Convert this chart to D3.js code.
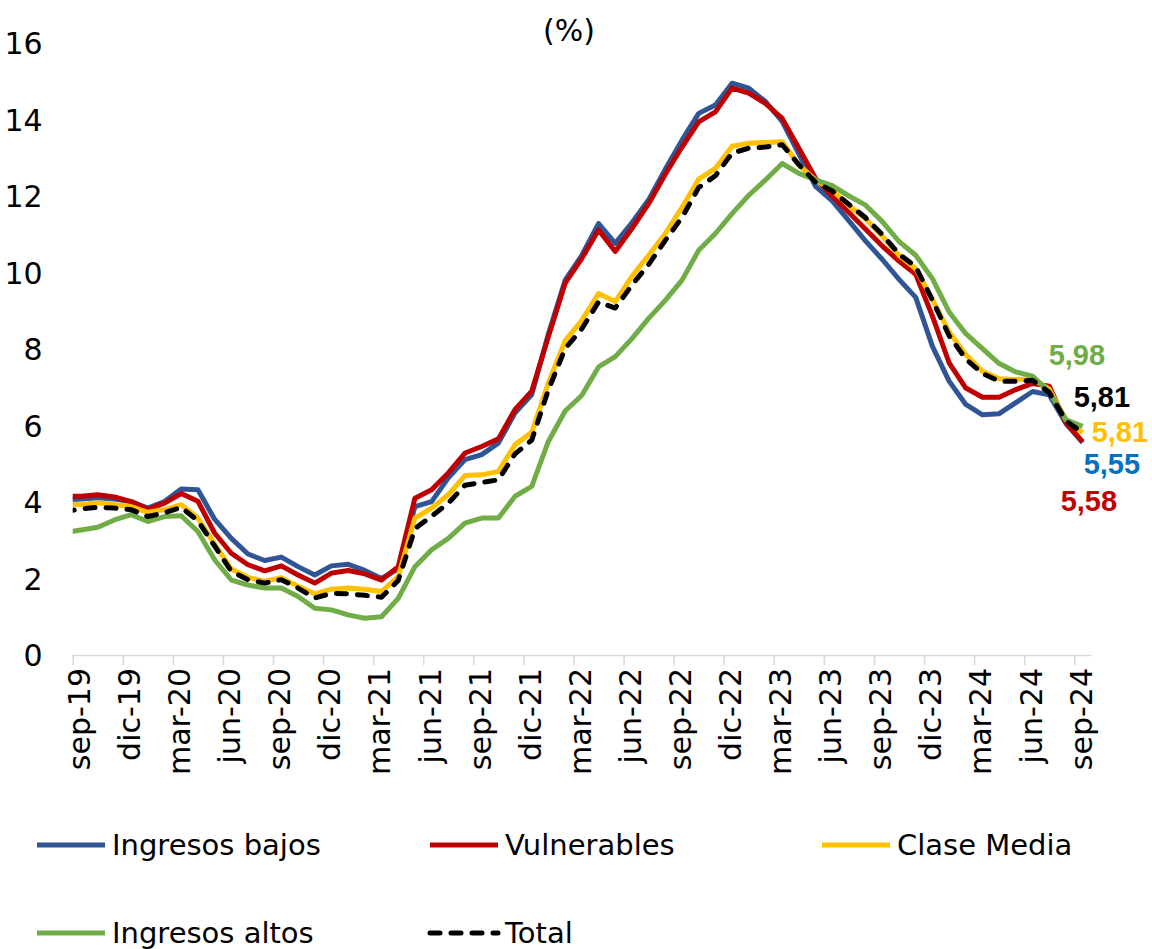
<!DOCTYPE html>
<html>
<head>
<meta charset="utf-8">
<script src="https://cdn.jsdelivr.net/npm/d3@7"></script>
<style>
  body { margin: 0; background: #fff; }
  svg { display: block; font-family: "DejaVu Sans", sans-serif; }
</style>
</head>
<body>
<svg id="chart" width="1152" height="949"></svg>
<script>
// months, first one (ago-19) sits left of the axis start and is clipped
const months = [
  "ago-19", "sep-19", "oct-19", "nov-19", "dic-19",
  "ene-20", "feb-20", "mar-20", "abr-20", "may-20", "jun-20", "jul-20", "ago-20", "sep-20", "oct-20", "nov-20", "dic-20",
  "ene-21", "feb-21", "mar-21", "abr-21", "may-21", "jun-21", "jul-21", "ago-21", "sep-21", "oct-21", "nov-21", "dic-21",
  "ene-22", "feb-22", "mar-22", "abr-22", "may-22", "jun-22", "jul-22", "ago-22", "sep-22", "oct-22", "nov-22", "dic-22",
  "ene-23", "feb-23", "mar-23", "abr-23", "may-23", "jun-23", "jul-23", "ago-23", "sep-23", "oct-23", "nov-23", "dic-23",
  "ene-24", "feb-24", "mar-24", "abr-24", "may-24", "jun-24", "jul-24", "ago-24", "sep-24"
];

const tickLabels = ["sep-19", "dic-19", "mar-20", "jun-20", "sep-20", "dic-20", "mar-21",
  "jun-21", "sep-21", "dic-21", "mar-22", "jun-22", "sep-22", "dic-22", "mar-23",
  "jun-23", "sep-23", "dic-23", "mar-24", "jun-24", "sep-24"];

const yTicks = [0, 2, 4, 6, 8, 10, 12, 14, 16];

const ingresosBajos = [4.05,
  4.08, 4.11, 4.08, 4.01,
  3.84, 4.01, 4.34, 4.32, 3.55, 3.05, 2.64, 2.47, 2.56, 2.31, 2.09, 2.33,
  2.37, 2.21, 2.00, 2.25, 3.88, 4.01, 4.63, 5.11, 5.24, 5.54, 6.33, 6.81,
  8.40, 9.80, 10.45, 11.28, 10.76, 11.30, 11.90, 12.70, 13.46, 14.16, 14.38, 14.95,
  14.82, 14.47, 13.95, 13.10, 12.25, 11.87, 11.35, 10.82, 10.34, 9.82, 9.35, 8.07,
  7.16, 6.55, 6.28, 6.31, 6.60, 6.89, 6.80, 6.05, 5.55];

const vulnerables = [4.15,
  4.15, 4.19, 4.13, 4.01,
  3.81, 3.97, 4.22, 4.02, 3.19, 2.66, 2.36, 2.20, 2.33, 2.09, 1.88, 2.14,
  2.21, 2.12, 1.96, 2.31, 4.10, 4.32, 4.76, 5.28, 5.45, 5.65, 6.42, 6.90,
  8.33, 9.72, 10.37, 11.11, 10.55, 11.15, 11.80, 12.57, 13.28, 13.94, 14.20, 14.82,
  14.69, 14.42, 14.03, 13.25, 12.46, 12.00, 11.57, 11.13, 10.69, 10.30, 9.95, 8.86,
  7.64, 6.98, 6.74, 6.74, 6.94, 7.10, 7.03, 6.07, 5.58];

const claseMedia = [3.95,
  3.93, 3.98, 3.93, 3.88,
  3.73, 3.80, 3.93, 3.58, 2.90, 2.25, 2.03, 1.93, 2.02, 1.80, 1.60, 1.72,
  1.75, 1.72, 1.66, 2.05, 3.58, 3.84, 4.19, 4.69, 4.71, 4.80, 5.50, 5.82,
  7.12, 8.22, 8.75, 9.45, 9.24, 9.90, 10.45, 11.02, 11.70, 12.44, 12.72, 13.30,
  13.38, 13.40, 13.42, 12.81, 12.42, 12.15, 11.75, 11.40, 10.95, 10.45, 10.10, 9.30,
  8.45, 7.85, 7.42, 7.22, 7.20, 7.22, 6.95, 6.15, 5.81];

const ingresosAltos = [3.20,
  3.27, 3.34, 3.53, 3.67,
  3.49, 3.62, 3.64, 3.23, 2.49, 1.96, 1.83, 1.75, 1.75, 1.53, 1.22, 1.18,
  1.05, 0.96, 1.00, 1.48, 2.31, 2.75, 3.05, 3.45, 3.58, 3.58, 4.15, 4.41,
  5.59, 6.38, 6.79, 7.53, 7.80, 8.27, 8.80, 9.27, 9.80, 10.58, 11.02, 11.54,
  12.02, 12.42, 12.85, 12.59, 12.42, 12.27, 12.00, 11.76, 11.33, 10.81, 10.45, 9.84,
  8.97, 8.40, 8.01, 7.62, 7.40, 7.29, 6.88, 6.15, 5.98];

const total = [3.75,
  3.82, 3.86, 3.84, 3.80,
  3.62, 3.72, 3.86, 3.51, 2.85, 2.19, 1.97, 1.88, 1.97, 1.75, 1.49, 1.61,
  1.60, 1.56, 1.51, 1.95, 3.30, 3.63, 3.97, 4.44, 4.51, 4.58, 5.26, 5.62,
  6.94, 8.01, 8.53, 9.23, 9.07, 9.67, 10.21, 10.84, 11.44, 12.22, 12.53, 13.12,
  13.25, 13.28, 13.34, 12.82, 12.36, 12.13, 11.78, 11.43, 10.99, 10.48, 10.15, 9.28,
  8.35, 7.74, 7.36, 7.16, 7.16, 7.18, 6.86, 6.12, 5.81];

const series = [
  { name: "Ingresos bajos", values: ingresosBajos, color: "#2F5597", label: "#0070C0" },
  { name: "Vulnerables", values: vulnerables, color: "#C00000", label: "#C00000" },
  { name: "Clase Media", values: claseMedia, color: "#FFC000", label: "#FFC000" },
  { name: "Ingresos altos", values: ingresosAltos, color: "#70AD47", label: "#70AD47" },
  { name: "Total", values: total, color: "#000000", label: "#000000", dashed: true }
];

// label offsets from the last point (dx, dy) in px
const endLabelOffsets = {
  "Ingresos bajos": [1, 21],
  "Vulnerables": [-22, 59],
  "Clase Media": [9, -1],
  "Ingresos altos": [-34, -72],
  "Total": [-9, -36]
};

const legendRows = [
  ["Ingresos bajos", "Vulnerables", "Clase Media"],
  ["Ingresos altos", "Total"]
];

const svg = d3.select("#chart");
const plotLeft = 72.7, plotRight = 1091, plotTop = 43, plotBottom = 655;

// one slot per month from sep-19; points sit mid-month
const x = d3.scaleLinear().domain([0, months.length - 1]).range([plotLeft, plotRight]);
const y = d3.scaleLinear().domain([0, 16]).range([plotBottom, plotTop]);
const px = (i) => x(i - 0.5); // i indexes months[], months[1] = sep-19

svg.append("defs").append("clipPath").attr("id", "plotclip")
  .append("rect").attr("x", plotLeft).attr("y", 0)
  .attr("width", plotRight - plotLeft).attr("height", plotBottom + 20);

// subtitle
svg.append("text")
  .attr("x", 569).attr("y", 41)
  .attr("text-anchor", "middle")
  .style("font-size", "30px")
  .attr("fill", "#000")
  .text("(%)");

// y axis
const yAxis = svg.append("g")
  .attr("transform", `translate(${plotLeft - 30},0)`)
  .call(d3.axisLeft(y).tickValues(yTicks).tickSize(0).tickPadding(0).tickFormat(d3.format("d")));
yAxis.select(".domain").remove();
yAxis.selectAll("text").style("font-size", "30px").style("font-family", "DejaVu Sans")
  .attr("fill", "#000").attr("dy", "0.36em");

// x axis
const tickIdx = tickLabels.map((_, k) => 1 + 3 * k);
const xAxis = svg.append("g")
  .attr("transform", `translate(0,${plotBottom})`)
  .call(d3.axisBottom(x)
    .tickValues(tickIdx.map((i) => i - 1))
    .tickSize(10).tickSizeOuter(0)
    .tickFormat((d, k) => tickLabels[k]));
xAxis.select(".domain").attr("stroke", "#d9d9d9").attr("stroke-width", 1.6);
xAxis.selectAll(".tick line").attr("stroke", "#d9d9d9").attr("stroke-width", 1.6);
xAxis.selectAll(".tick text")
  .attr("y", 0).attr("dy", "0.36em")
  .attr("text-anchor", "end")
  .attr("transform", "translate(6,13) rotate(-90)")
  .style("font-size", "30px").style("font-family", "DejaVu Sans")
  .attr("fill", "#000");

// lines
const line = d3.line()
  .x((d, i) => px(i))
  .y((d) => y(d));

const lines = svg.append("g").attr("clip-path", "url(#plotclip)");
series.forEach((s) => {
  lines.append("path")
    .datum(s.values)
    .attr("d", line)
    .attr("fill", "none")
    .attr("stroke", s.color)
    .attr("stroke-width", 5)
    .attr("stroke-linejoin", "round")
    .attr("stroke-linecap", s.dashed ? "round" : "butt")
    .attr("stroke-dasharray", s.dashed ? "10,11" : null);
});

// end labels
const fmt = (v) => v.toFixed(2).replace(".", ",");
series.forEach((s) => {
  const last = s.values.length - 1;
  const [dx, dy] = endLabelOffsets[s.name];
  svg.append("text")
    .attr("x", px(last) + dx)
    .attr("y", y(s.values[last]) + dy)
    .attr("dy", "0.36em")
    .style("font-family", "Liberation Sans, Arial, sans-serif")
    .style("font-size", "29px")
    .style("font-weight", "bold")
    .attr("fill", s.label)
    .text(fmt(s.values[last]));
});

// legend
const legendCols = [37, 430, 822];
const legendRowY = [845, 933];
legendRows.forEach((row, r) => {
  row.forEach((name, c) => {
    const s = series.find((d) => d.name === name);
    const g = svg.append("g").attr("transform", `translate(${legendCols[c]},${legendRowY[r]})`);
    g.append("line")
      .attr("x1", 0).attr("x2", 68).attr("y1", 0).attr("y2", 0)
      .attr("stroke", s.color).attr("stroke-width", 5)
      .attr("stroke-linecap", s.dashed ? "round" : "butt")
      .attr("stroke-dasharray", s.dashed ? "10,11" : null);
    g.append("text")
      .attr("x", 75).attr("y", 0).attr("dy", "0.36em")
      .style("font-size", "29px")
      .attr("fill", "#000")
      .text(name);
  });
});
</script>
</body>
</html>
